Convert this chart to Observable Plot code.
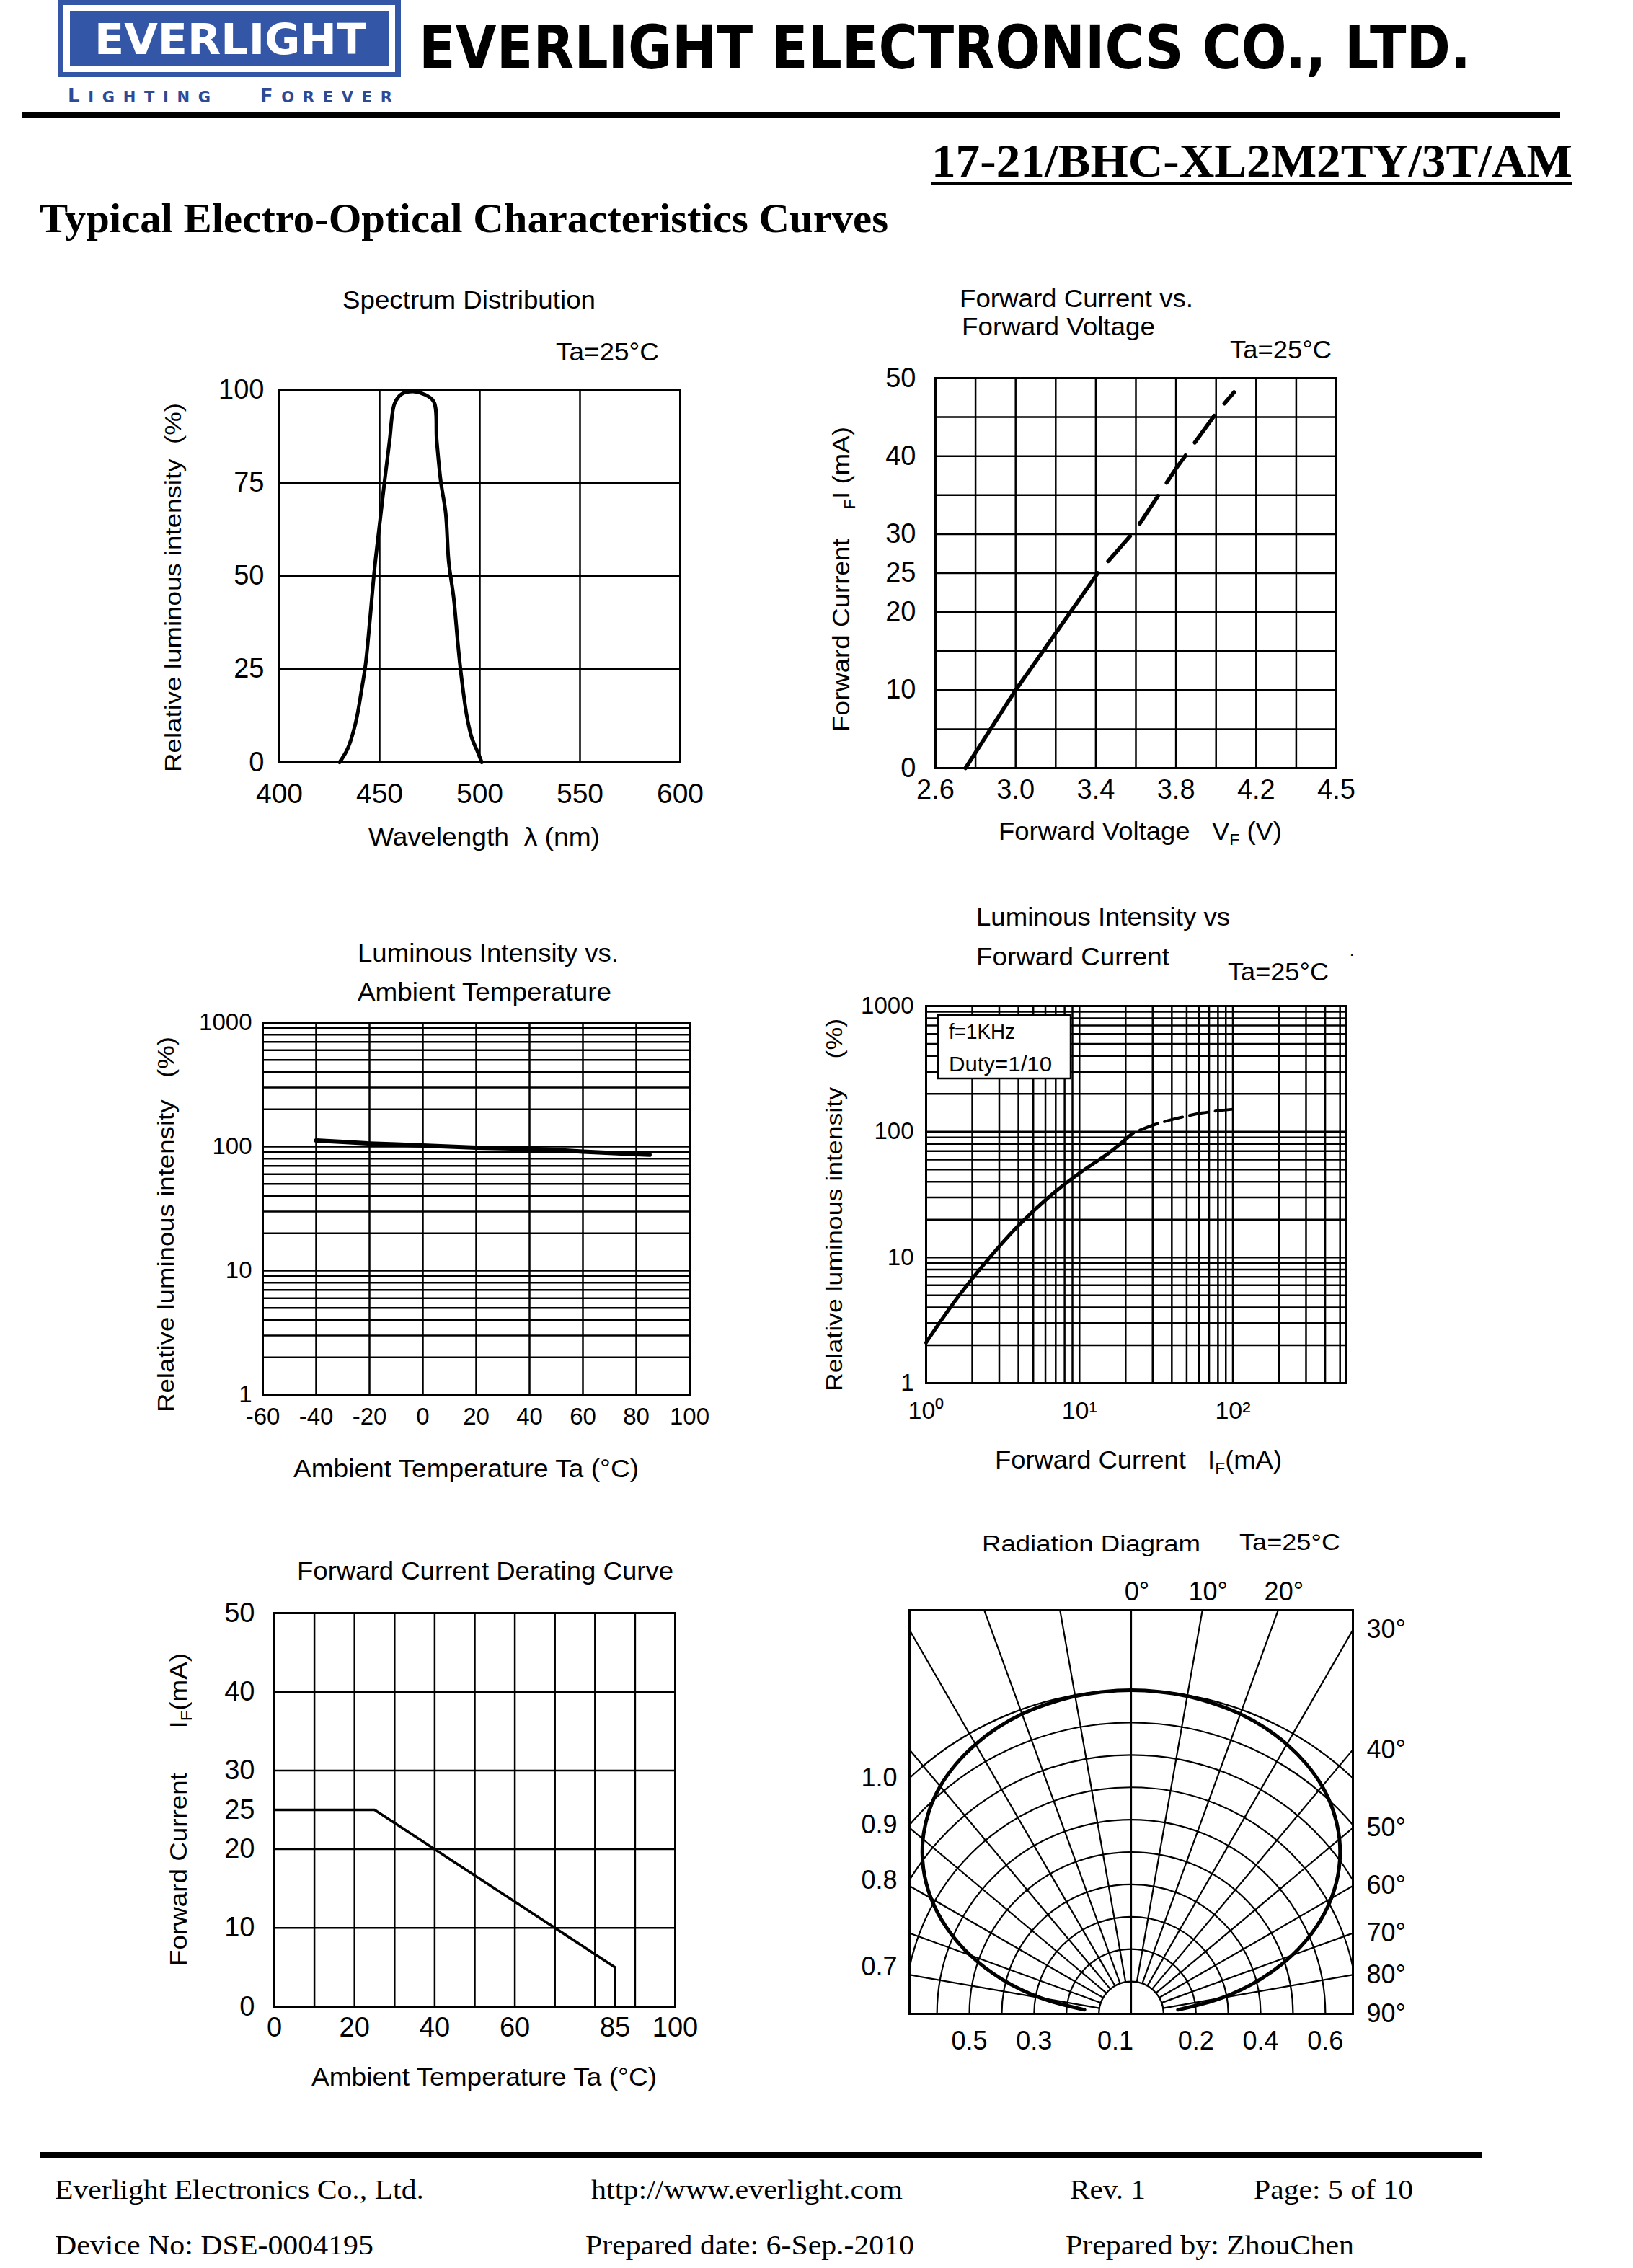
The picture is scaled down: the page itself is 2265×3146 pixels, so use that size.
<!DOCTYPE html>
<html><head><meta charset="utf-8">
<script src="https://cdn.jsdelivr.net/npm/d3@7"></script>
<script src="https://cdn.jsdelivr.net/npm/@observablehq/plot@0.6"></script>
<style>
html,body{margin:0;padding:0;background:#fff;}
#page{position:relative;width:2265px;height:3146px;background:#fff;overflow:hidden;}
.chart{position:absolute;}
.chart svg{display:block;max-width:none;}
#overlay{position:absolute;left:0;top:0;}
</style></head>
<body><div id="page"></div>
<script>
// ---------------- DATA ----------------
// Spectrum Distribution
const spectrumWavelength = [430, 434, 438, 441, 443, 445, 447.5, 450, 452.5, 455, 457.5, 461, 466.5, 472, 477, 478.5, 480.5, 483, 484.5, 487, 489, 490.5, 493.5, 496, 499, 501];
const spectrumIntensity  = [0, 3.6, 10.5, 19.4, 26.3, 37.2, 52, 63.8, 75.5, 86.4, 96.3, 98.8, 99.5, 98.8, 96.8, 86.4, 75.5, 66.8, 53.8, 44, 32.2, 24.4, 12.5, 6.6, 2.7, 0];
const spectrumXTicks = [400, 450, 500, 550, 600];
const spectrumYTicks = [0, 25, 50, 75, 100];

// Forward Current vs Forward Voltage
const fvSolidVoltage = [2.75, 3.0, 3.41];
const fvSolidCurrent = [0, 10, 25];
const fvDashVoltage = [3.41, 3.6, 3.8, 4.0, 4.09];
const fvDashCurrent = [25, 30.6, 38.4, 45.5, 48.2];
const fvXGrid = [2.6, 2.8, 3.0, 3.2, 3.4, 3.6, 3.8, 4.0, 4.2, 4.35, 4.5];
const fvXTicks = [2.6, 3.0, 3.4, 3.8, 4.2, 4.5];
const fvYGrid = [0, 5, 10, 15, 20, 25, 30, 35, 40, 45, 50];
const fvYTicks = [0, 10, 20, 25, 30, 40, 50];

// Luminous Intensity vs Ambient Temperature
const ltaTemp = [-40, -30, -20, -10, 0, 10, 20, 30, 40, 50, 60, 70, 80, 85];
const ltaIntensity = [112, 109, 106, 104, 102, 100, 98, 97, 96, 94, 91, 89, 87, 86];
const ltaXTicks = [-60, -40, -20, 0, 20, 40, 60, 80, 100];
const logGrid1000 = [1, 2, 3, 4, 5, 6, 7, 8, 9, 10, 20, 30, 40, 50, 60, 70, 80, 90, 100, 200, 300, 400, 500, 600, 700, 800, 900, 1000];
const logYTicks = [1, 10, 100, 1000];

// Luminous Intensity vs Forward Current
const lifSolidCurrent = [1, 1.585, 2.51, 3.98, 6.31, 10, 15.85, 22.4];
const lifSolidIntensity = [2.1, 4.7, 9.5, 17.8, 30.2, 46.8, 69, 98];
const lifDashCurrent = [22.4, 31.6, 44.7, 63, 100];
const lifDashIntensity = [98, 115, 129, 141, 151];
const lifXGrid = [1, 2, 3, 4, 5, 6, 7, 8, 9, 10, 20, 30, 40, 50, 60, 70, 80, 90, 100, 200, 300, 400, 500];
const lifXTicks = [1, 10, 100];
const lifXTickLabels = ["10⁰", "10¹", "10²"];

// Forward Current Derating Curve
const deratingTemp = [0, 25, 85, 85];
const deratingCurrent = [25, 25, 5, 0];
const deratingXGrid = [0, 10, 20, 30, 40, 50, 60, 70, 80, 90, 100];
const deratingXTicks = [0, 20, 40, 60, 85, 100];
const deratingYGrid = [0, 10, 20, 30, 40, 50];
const deratingYTicks = [0, 10, 20, 25, 30, 40, 50];

// Radiation Diagram
const radiationAngle = [-85, -80, -75, -70, -65, -60, -55, -50, -45, -40, -35, -30, -25, -20, -15, -10, -5, 0, 5, 10, 15, 20, 25, 30, 35, 40, 45, 50, 55, 60, 65, 70, 75, 80, 85];
const radiationIntensity = [0.145, 0.284, 0.413, 0.529, 0.629, 0.714, 0.784, 0.840, 0.884, 0.918, 0.943, 0.962, 0.976, 0.986, 0.992, 0.997, 0.999, 1.0, 0.999, 0.997, 0.992, 0.986, 0.976, 0.962, 0.943, 0.918, 0.884, 0.840, 0.784, 0.714, 0.629, 0.529, 0.413, 0.284, 0.145];
const radiationArcs = [0.1, 0.2, 0.3, 0.4, 0.5, 0.6, 0.7, 0.8, 0.9, 1.0];
const radiationSpokes = [-90, -80, -70, -60, -50, -40, -30, -20, -10, 0, 10, 20, 30, 40, 50, 60, 70, 80, 90];
const radiationLeftLabels = [1.0, 0.9, 0.8, 0.7];
const radiationRightLabels = [30, 40, 50, 60, 70, 80, 90];
const radiationTopLabels = [0, 10, 20];
const radiationBottomLabels = [-0.5, -0.3, 0.2, 0.4, 0.6];
const radiationBottomShifted = [-0.1];

// ---------------- LAYOUT ----------------
const FONT = "'Liberation Sans', Arial, sans-serif";
const SERIF = "'Liberation Serif', 'Times New Roman', serif";
const GRID = 2.5;
const page = document.getElementById("page");

function chart(frame, m, opts) {
  const [x0, y0, x1, y1] = frame;
  const W = x1 - x0 + m.l + m.r, H = y1 - y0 + m.t + m.b;
  const svg = Plot.plot({
    width: W, height: H,
    marginLeft: m.l, marginRight: m.r, marginTop: m.t, marginBottom: m.b,
    style: {fontFamily: FONT, color: "black", background: "transparent", overflow: "visible"},
    ...opts
  });
  const d = document.createElement("div");
  d.className = "chart";
  d.style.left = (x0 - m.l) + "px"; d.style.top = (y0 - m.t) + "px";
  d.style.width = W + "px"; d.style.height = H + "px";
  d.appendChild(svg); page.appendChild(d);
}
const zip = (a, b) => a.map((v, i) => ({x: v, y: b[i]}));
const str = d => String(d);

// Spectrum
chart([387, 540, 943, 1057], {l: 120, r: 60, t: 40, b: 80}, {
  x: {domain: [400, 600]}, y: {domain: [0, 100]},
  marks: [
    Plot.ruleX(spectrumXTicks, {stroke: "black", strokeWidth: GRID}),
    Plot.ruleY(spectrumYTicks, {stroke: "black", strokeWidth: GRID}),
    Plot.line(zip(spectrumWavelength, spectrumIntensity), {x: "x", y: "y", strokeWidth: 5, curve: "catmull-rom"}),
    Plot.frame({stroke: "black", strokeWidth: 3}),
    Plot.axisX(spectrumXTicks, {tickSize: 0, tickPadding: 29, fontSize: 39, tickFormat: str, label: null}),
    Plot.axisY(spectrumYTicks, {tickSize: 0, tickPadding: 21, fontSize: 38, tickFormat: str, label: null})
  ]
});

// Forward current vs voltage
{
  const fw = 1853 - 1297, ml = 100;
  chart([1297, 524, 1853, 1065], {l: ml, r: 60, t: 40, b: 70}, {
    x: {type: "linear", domain: [2.6, 4.2, 4.5], range: [ml, ml + 0.8 * fw, ml + fw]}, y: {domain: [0, 50]},
    marks: [
      Plot.ruleX(fvXGrid, {stroke: "black", strokeWidth: GRID}),
      Plot.ruleY(fvYGrid, {stroke: "black", strokeWidth: GRID}),
      Plot.line(zip(fvSolidVoltage, fvSolidCurrent), {x: "x", y: "y", strokeWidth: 5.5}),
      Plot.line(zip(fvDashVoltage, fvDashCurrent), {x: "x", y: "y", strokeWidth: 5.5, strokeDasharray: "46,22", strokeDashoffset: 46}),
      Plot.frame({stroke: "black", strokeWidth: 3}),
      Plot.axisX(fvXTicks, {tickSize: 0, tickPadding: 16, fontSize: 38, tickFormat: d => d.toFixed(1), label: null}),
      Plot.axisY(fvYTicks, {tickSize: 0, tickPadding: 27, fontSize: 38, tickFormat: str, label: null})
    ]
  });
}

// Luminous intensity vs ambient temperature
chart([364, 1418, 956, 1934], {l: 110, r: 60, t: 40, b: 70}, {
  x: {domain: [-60, 100]}, y: {type: "log", domain: [1, 1000]},
  marks: [
    Plot.ruleX(ltaXTicks, {stroke: "black", strokeWidth: GRID}),
    Plot.ruleY(logGrid1000, {stroke: "black", strokeWidth: GRID}),
    Plot.line(zip(ltaTemp, ltaIntensity), {x: "x", y: "y", strokeWidth: 6}),
    Plot.frame({stroke: "black", strokeWidth: 3}),
    Plot.axisX(ltaXTicks, {tickSize: 0, tickPadding: 18, fontSize: 33, tickFormat: str, label: null}),
    Plot.axisY(logYTicks, {tickSize: 0, tickPadding: 15, fontSize: 33, tickFormat: str, label: null})
  ]
});

// Luminous intensity vs forward current
chart([1284, 1395, 1867, 1918], {l: 100, r: 40, t: 40, b: 80}, {
  x: {type: "log", domain: [1, 550]}, y: {type: "log", domain: [1, 1000]},
  marks: [
    Plot.ruleX(lifXGrid, {stroke: "black", strokeWidth: GRID}),
    Plot.ruleY(logGrid1000, {stroke: "black", strokeWidth: GRID}),
    Plot.line(zip(lifSolidCurrent, lifSolidIntensity), {x: "x", y: "y", strokeWidth: 5, curve: "catmull-rom"}),
    Plot.line(zip(lifDashCurrent, lifDashIntensity), {x: "x", y: "y", strokeWidth: 4, strokeDasharray: "26,10", strokeDashoffset: 26, curve: "catmull-rom"}),
    Plot.frame({stroke: "black", strokeWidth: 3}),
    Plot.axisX(lifXTicks, {tickSize: 0, tickPadding: 25, fontSize: 34, tickFormat: d => lifXTickLabels[lifXTicks.indexOf(d)], label: null}),
    Plot.axisY(logYTicks, {tickSize: 0, tickPadding: 17, fontSize: 33, tickFormat: str, label: null})
  ]
});

// Derating
chart([380, 2237, 936, 2783], {l: 100, r: 60, t: 40, b: 70}, {
  x: {domain: [0, 100]}, y: {domain: [0, 50]},
  marks: [
    Plot.ruleX(deratingXGrid, {stroke: "black", strokeWidth: GRID}),
    Plot.ruleY(deratingYGrid, {stroke: "black", strokeWidth: GRID}),
    Plot.line(zip(deratingTemp, deratingCurrent), {x: "x", y: "y", strokeWidth: 3.6}),
    Plot.frame({stroke: "black", strokeWidth: 3}),
    Plot.axisX(deratingXTicks, {tickSize: 0, tickPadding: 15, fontSize: 38, tickFormat: str, label: null}),
    Plot.axisY(deratingYTicks, {tickSize: 0, tickPadding: 27, fontSize: 38, tickFormat: str, label: null})
  ]
});

// Radiation diagram
{
  const frame = [1261, 2233, 1876, 2793];
  const fw = frame[2] - frame[0], fh = frame[3] - frame[1];
  const X = 0.685, ppu = fw / (2 * X), Y = fh / ppu;
  const rad = a => a * Math.PI / 180;
  const curve = radiationAngle.map((a, i) => ({x: radiationIntensity[i] * Math.sin(rad(a)), y: radiationIntensity[i] * Math.cos(rad(a))}));
  const leftPos = radiationLeftLabels.map(r => Math.sqrt(r * r - X * X));
  const rightPos = radiationRightLabels.map(a => X * Math.cos(rad(a)) / Math.sin(rad(a)));
  const topPos = radiationTopLabels.map(a => Y * Math.tan(rad(a)));
  const lookup = (pos, labels) => d => labels[pos.findIndex(p => Math.abs(p - d) < 1e-9)];
  chart(frame, {l: 110, r: 110, t: 70, b: 80}, {
    x: {domain: [-X, X]}, y: {domain: [0, Y]},
    r: {type: "linear", domain: [0, 1], range: [0, ppu]},
    marks: [
      Plot.dot(radiationArcs, {x: () => 0, y: () => 0, r: d => d, stroke: "black", strokeWidth: 2.2, fill: "none", clip: true}),
      Plot.link(radiationSpokes, {
        x1: a => (a === 0 ? 0 : 0.1) * Math.sin(rad(a)), y1: a => (a === 0 ? 0 : 0.1) * Math.cos(rad(a)),
        x2: a => 3 * Math.sin(rad(a)), y2: a => 3 * Math.cos(rad(a)),
        stroke: "black", strokeWidth: 2.2, clip: true
      }),
      Plot.line(curve, {x: "x", y: "y", strokeWidth: 5, curve: "catmull-rom", clip: true}),
      Plot.frame({stroke: "black", strokeWidth: 3}),
      Plot.axisY(leftPos, {anchor: "left", tickSize: 0, tickPadding: 17, fontSize: 36, tickFormat: lookup(leftPos, radiationLeftLabels.map(v => v.toFixed(1))), label: null}),
      Plot.axisY(rightPos, {anchor: "right", tickSize: 0, tickPadding: 19, fontSize: 36, tickFormat: lookup(rightPos, radiationRightLabels.map(v => v + "°")), label: null}),
      Plot.axisX(topPos, {anchor: "top", tickSize: 0, tickPadding: 14, fontSize: 36, dx: 8, tickFormat: lookup(topPos, radiationTopLabels.map(v => v + "°")), label: null}),
      Plot.axisX(radiationBottomLabels, {anchor: "bottom", tickSize: 0, tickPadding: 24, fontSize: 36, tickFormat: d => Math.abs(d).toFixed(1), label: null}),
      Plot.axisX(radiationBottomShifted, {anchor: "bottom", tickSize: 0, tickPadding: 24, fontSize: 36, dx: 23, tickFormat: d => Math.abs(d).toFixed(1), label: null})
    ]
  });
}

// ---------------- OVERLAY: header, titles, labels, footer ----------------
const NS = "http://www.w3.org/2000/svg";
const ov = document.createElementNS(NS, "svg");
ov.setAttribute("id", "overlay");
ov.setAttribute("width", 2265); ov.setAttribute("height", 3146);
page.appendChild(ov);
function R(x, y, w, h, fill, stroke, sw) {
  const r = document.createElementNS(NS, "rect");
  r.setAttribute("x", x); r.setAttribute("y", y); r.setAttribute("width", w); r.setAttribute("height", h);
  r.setAttribute("fill", fill || "black");
  if (stroke) { r.setAttribute("stroke", stroke); r.setAttribute("stroke-width", sw || 2); }
  ov.appendChild(r);
}
function T(x, y, s, o = {}) {
  const t = document.createElementNS(NS, "text");
  t.setAttribute("x", x); t.setAttribute("y", y);
  t.setAttribute("font-size", o.size || 35);
  t.setAttribute("font-family", o.family || FONT);
  t.setAttribute("fill", o.fill || "black");
  if (o.weight) t.setAttribute("font-weight", o.weight);
  if (o.len) { t.setAttribute("textLength", o.len); t.setAttribute("lengthAdjust", o.adjust || "spacingAndGlyphs"); }
  if (o.rot) t.setAttribute("transform", `rotate(-90 ${x} ${y})`);
  t.setAttribute("xml:space", "preserve");
  t.style.whiteSpace = "pre";
  t.innerHTML = s;
  ov.appendChild(t);
}
const sub = (c, sz = 22, dy = 7) => `<tspan font-size="${sz}" dy="${dy}">${c}</tspan><tspan dy="${-dy}">`;

// Header
const BLUE = "#3356a6";
R(80, 0, 476, 107, BLUE);
R(88, 7, 460, 93, "white");
R(97, 15, 442, 77, BLUE);
T(131, 75, "EVERLIGHT", {size: 59, weight: "bold", family: "'DejaVu Sans', sans-serif", fill: "white", len: 377});
T(94, 142, '<tspan font-size="26">L</tspan>IGHTING   <tspan font-size="26">F</tspan>OREVER', {size: 21, family: "'DejaVu Sans', sans-serif", fill: "#2c4a96", len: 450, adjust: "spacing", weight: "bold"});
T(581, 95, "EVERLIGHT ELECTRONICS CO., LTD.", {size: 84, weight: "bold", family: "'DejaVu Sans', sans-serif", len: 1459});
R(30, 156, 2134, 7, "black");
T(1292, 245, "17-21/BHC-XL2M2TY/3T/AM", {size: 66, weight: "bold", family: SERIF, len: 889});
R(1292, 252, 889, 5, "black");
T(55, 322, "Typical Electro-Optical Characteristics Curves", {size: 58, weight: "bold", family: SERIF, len: 1177});

// Spectrum labels
T(475, 428, "Spectrum Distribution", {len: 351});
T(771, 500, "Ta=25°C", {len: 143});
T(251, 1071, "Relative luminous intensity  (%)", {rot: true, len: 512, size: 32});
T(511, 1173, "Wavelength  λ (nm)", {len: 321});

// FV labels
T(1331, 426, "Forward Current vs.", {len: 324});
T(1334, 465, "Forward Voltage", {len: 268});
T(1706, 497, "Ta=25°C", {len: 141});
T(1385, 1165, "Forward Voltage   V" + sub("F") + " (V)</tspan>", {len: 393});
T(1178, 1015, "Forward Current    " + sub("F", 22, 8) + "I (mA)</tspan>", {rot: true, len: 423, size: 34});

// LI vs Ta labels
T(496, 1334, "Luminous Intensity vs.", {len: 362});
T(496, 1388, "Ambient Temperature", {len: 352});
T(407, 2049, "Ambient Temperature Ta (°C)", {len: 479});
T(241, 1959, "Relative luminous intensity   (%)", {rot: true, len: 521, size: 32});

// LI vs IF labels
T(1354, 1284, "Luminous Intensity vs", {len: 352});
T(1354, 1339, "Forward Current", {len: 268});
T(1703, 1360, "Ta=25°C", {len: 140});
T(1872, 1326, ".", {size: 22});
T(1380, 2037, "Forward Current   I" + sub("F") + "(mA)</tspan>", {len: 398});
T(1168, 1930, "Relative luminous intensity    (%)", {rot: true, len: 517, size: 32});
R(1301, 1408, 184, 88, "white", "black", 2.5);
T(1316, 1441, "f=1KHz", {size: 30, len: 92});
T(1316, 1486, "Duty=1/10", {size: 30, len: 143});

// Derating labels
T(412, 2191, "Forward Current Derating Curve", {len: 522});
T(432, 2893, "Ambient Temperature Ta (°C)", {len: 479});
T(259, 2727, "Forward Current      I" + sub("F") + "(mA)</tspan>", {rot: true, len: 434, size: 34});

// Radiation labels
T(1362, 2152, "Radiation Diagram", {len: 303, size: 32});
T(1719, 2150, "Ta=25°C", {len: 140, size: 32});

// Footer
R(55, 2985, 2000, 8, "black");
const fs = {size: 38, family: SERIF};
T(76, 3050, "Everlight Electronics Co., Ltd.", {...fs, len: 512});
T(820, 3050, "http://www.everlight.com", {...fs, len: 432});
T(1484, 3050, "Rev. 1", {...fs, len: 105});
T(1739, 3050, "Page: 5 of 10", {...fs, len: 221});
T(76, 3127, "Device No: DSE-0004195", {...fs, len: 442});
T(812, 3127, "Prepared date: 6-Sep.-2010", {...fs, len: 456});
T(1478, 3127, "Prepared by: ZhouChen", {...fs, len: 400});
</script>
</body></html>
